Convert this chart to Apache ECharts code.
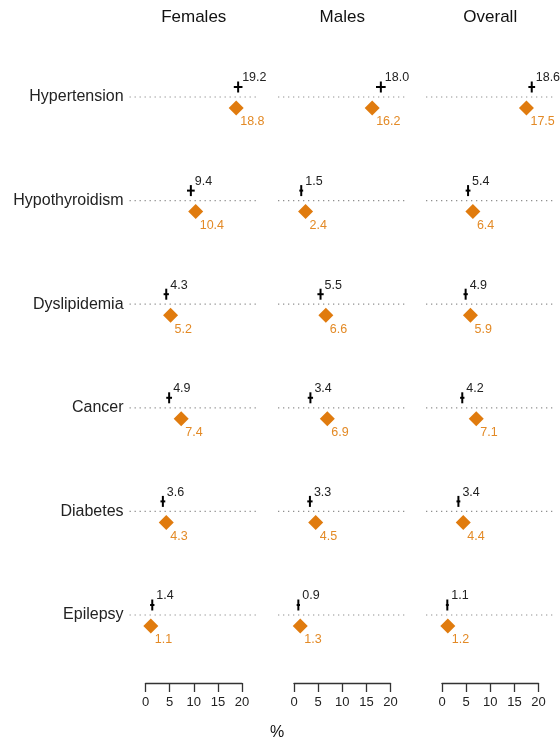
<!DOCTYPE html>
<html><head><meta charset="utf-8">
<script src="https://cdn.jsdelivr.net/npm/echarts@6/dist/echarts.min.js"></script>
<style>html,body{margin:0;padding:0;background:#fff}#c{width:560px;height:744px}</style>
</head><body><div id="c"></div>
<script>
const conditions = ['Hypertension','Hypothyroidism','Dyslipidemia','Cancer','Diabetes','Epilepsy'];
const panels = ['Females','Males','Overall'];
const crossFemales = [19.2, 9.4, 4.3, 4.9, 3.6, 1.4];
const crossMales   = [18.0, 1.5, 5.5, 3.4, 3.3, 0.9];
const crossOverall = [18.6, 5.4, 4.9, 4.2, 3.4, 1.1];
const crossLowFemales  = [18.3, 8.6, 3.75, 4.3, 3.1, 0.95];
const crossHighFemales = [20.1, 10.2, 4.85, 5.5, 4.1, 1.85];
const crossLowMales    = [17.0, 1.1, 4.85, 2.85, 2.75, 0.55];
const crossHighMales   = [19.0, 1.9, 6.15, 3.95, 3.85, 1.25];
const crossLowOverall  = [17.9, 4.9, 4.45, 3.75, 3.0, 0.8];
const crossHighOverall = [19.3, 5.9, 5.35, 4.65, 3.8, 1.4];
const diamondFemales = [18.8, 10.4, 5.2, 7.4, 4.3, 1.1];
const diamondMales   = [16.2, 2.4, 6.6, 6.9, 4.5, 1.3];
const diamondOverall = [17.5, 6.4, 5.9, 7.1, 4.4, 1.2];
const tickValues = [0, 5, 10, 15, 20];
const xAxisTitle = '%';

// layout
const zeroX = [145.5, 294, 442];
const PPU = 96.5 / 20;
const X_MIN = -3.3, X_MAX = 23.2;
const ROW_H = 103.6, TOP = 97 - ROW_H / 2;
const ORANGE = '#E07B0E';
const ORANGE_TXT = '#E38A26';
const FONT = '"Liberation Sans", Arial, sans-serif';

const crossSets = [
  [crossFemales, crossLowFemales, crossHighFemales],
  [crossMales, crossLowMales, crossHighMales],
  [crossOverall, crossLowOverall, crossHighOverall]
];
const diamondSets = [diamondFemales, diamondMales, diamondOverall];

const grid = [], xAxis = [], yAxis = [], series = [], graphic = [];
panels.forEach((name, p) => {
  grid.push({left: zeroX[p] + X_MIN * PPU, width: (X_MAX - X_MIN) * PPU, top: TOP, height: ROW_H * conditions.length});
  xAxis.push({type: 'value', gridIndex: 2 * p, min: X_MIN, max: X_MAX, show: false});
  yAxis.push({type: 'category', gridIndex: 2 * p, data: conditions, inverse: true, boundaryGap: true,
    axisLine: {show: false}, axisTick: {show: false}, splitLine: {show: false},
    axisLabel: {show: p === 0, fontSize: 16, color: '#222', margin: 6, fontFamily: FONT}});
  grid.push({left: zeroX[p], width: 20 * PPU, top: 682, height: 1});
  xAxis.push({type: 'value', gridIndex: 2 * p + 1, min: tickValues[0], max: tickValues[tickValues.length - 1],
    interval: tickValues[1] - tickValues[0],
    axisLine: {show: true, lineStyle: {color: '#333', width: 1.3}},
    axisTick: {show: true, length: 9, lineStyle: {color: '#333', width: 1.3}},
    axisLabel: {margin: 13, fontSize: 13, color: '#222', fontFamily: FONT},
    splitLine: {show: false}});
  yAxis.push({type: 'value', gridIndex: 2 * p + 1, show: false});

  series.push({type: 'custom', xAxisIndex: 2 * p, yAxisIndex: 2 * p, silent: true,
    data: conditions.map((c, i) => [X_MIN, i]),
    renderItem(params, api) {
      const a = api.coord([X_MIN, api.value(1)]);
      const b = api.coord([X_MAX, api.value(1)]);
      return {type: 'line', shape: {x1: a[0], y1: a[1], x2: b[0], y2: b[1]},
        style: {stroke: '#888', lineWidth: 1.2, lineDash: [1.2, 3.8]}};
    }});
  const [cv, clo, chi] = crossSets[p];
  series.push({type: 'custom', xAxisIndex: 2 * p, yAxisIndex: 2 * p, silent: true,
    data: cv.map((v, i) => [v, i, clo[i], chi[i]]),
    renderItem(params, api) {
      const v = api.value(0), i = api.value(1);
      const c = api.coord([v, i]), l = api.coord([api.value(2), i]), h = api.coord([api.value(3), i]);
      const y = c[1] - 10;
      return {type: 'group', children: [
        {type: 'line', shape: {x1: l[0], y1: y, x2: h[0], y2: y}, style: {stroke: '#000', lineWidth: 2}},
        {type: 'line', shape: {x1: c[0], y1: y - 5.5, x2: c[0], y2: y + 5.5}, style: {stroke: '#000', lineWidth: 2}},
        {type: 'text', x: c[0] + 4, y: y - 9, style: {text: v.toFixed(1), fill: '#222', font: '12.5px ' + FONT, align: 'left', verticalAlign: 'middle'}}
      ]};
    }});
  series.push({type: 'custom', xAxisIndex: 2 * p, yAxisIndex: 2 * p, silent: true,
    data: diamondSets[p].map((v, i) => [v, i]),
    renderItem(params, api) {
      const v = api.value(0);
      const c = api.coord([v, api.value(1)]);
      const y = c[1] + 11;
      return {type: 'group', children: [
        {type: 'polygon', shape: {points: [[c[0], y - 7.5], [c[0] + 7.5, y], [c[0], y + 7.5], [c[0] - 7.5, y]]}, style: {fill: ORANGE}},
        {type: 'text', x: c[0] + 4, y: y + 14, style: {text: v.toFixed(1), fill: ORANGE_TXT, font: '12.5px ' + FONT, align: 'left', verticalAlign: 'middle'}}
      ]};
    }});

  graphic.push({type: 'text', x: zeroX[p] + 10 * PPU, y: 17,
    style: {text: name, fill: '#111', font: '17px ' + FONT, align: 'center', verticalAlign: 'middle'}});
});
graphic.push({type: 'text', x: 277, y: 733, style: {text: xAxisTitle, fill: '#111', font: '16px ' + FONT, align: 'center', verticalAlign: 'middle'}});

const chart = echarts.init(document.getElementById('c'), null, {renderer: 'canvas'});
chart.setOption({animation: false, backgroundColor: '#fff', grid, xAxis, yAxis, series, graphic});
</script></body></html>
